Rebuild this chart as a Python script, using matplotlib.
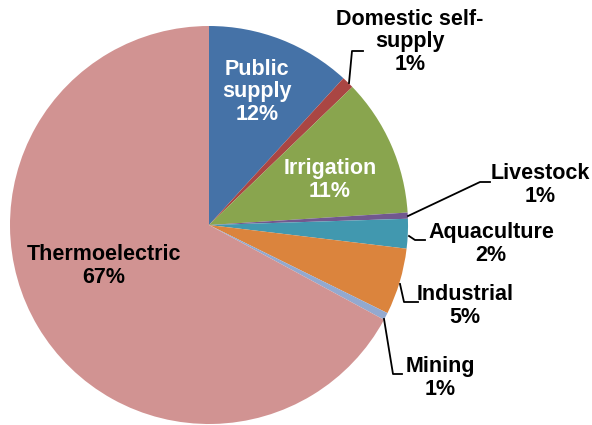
import matplotlib
matplotlib.use('Agg')
from matplotlib import pyplot as plt

# water use shares (percent)
categories = ['Public supply', 'Domestic self-supply', 'Irrigation', 'Livestock',
              'Aquaculture', 'Industrial', 'Mining', 'Thermoelectric']
shares = [11.8, 1.0, 11.2, 0.5, 2.4, 5.4, 0.6, 67.1]
label_text = ['Public\nsupply\n12%', 'Domestic self-\nsupply\n1%', 'Irrigation\n11%',
              'Livestock\n1%', 'Aquaculture\n2%', 'Industrial\n5%', 'Mining\n1%',
              'Thermoelectric\n67%']
colors = ['#4572A7', '#AA4643', '#89A54E', '#71588F',
          '#4198AF', '#DB843D', '#93A9CF', '#D19392']

plt.rcParams['font.family'] = ['Liberation Sans', 'DejaVu Sans']

W, H = 592, 425
cx, cy, r = 209, 225, 199
fig = plt.figure(figsize=(W / 100, H / 100), dpi=100)
ax = fig.add_axes([(cx - r) / W, (H - cy - r) / H, 2 * r / W, 2 * r / H])

ax.pie(shares, colors=colors, startangle=90, counterclock=False, radius=1,
       wedgeprops=dict(linewidth=0))
ax.set_xlim(-1, 1)
ax.set_ylim(-1, 1)
ax.axis('off')


def to_data(px, py):
    return (px - cx) / r, (cy - py) / r


# label centres in pixels
label_pos = [(257, 92), (410, 42), (330, 180), (540, 185),
             (491, 244), (465, 306), (440, 378), (104, 266)]
label_color = ['white', 'black', 'white', 'black', 'black', 'black', 'black', 'black']

for txt, (px, py), c in zip(label_text, label_pos, label_color):
    x, y = to_data(px, py)
    ax.text(x, y, txt, ha='center', va='center', fontsize=15.5, fontweight='bold',
            color=c, linespacing=1.08)

# leader lines (pixel points)
leaders = [
    [(349, 83), (352, 51), (363, 51)],
    [(408, 216), (480, 182), (490, 182)],
    [(409, 236), (415, 240), (425, 240)],
    [(400, 284), (404, 302), (418, 302)],
    [(384, 319), (393, 374), (402, 374)],
]
for pts in leaders:
    xs = [to_data(p[0], p[1])[0] for p in pts]
    ys = [to_data(p[0], p[1])[1] for p in pts]
    ax.plot(xs, ys, color='black', linewidth=1.3, clip_on=False)

fig.savefig('out.png', dpi=100)
